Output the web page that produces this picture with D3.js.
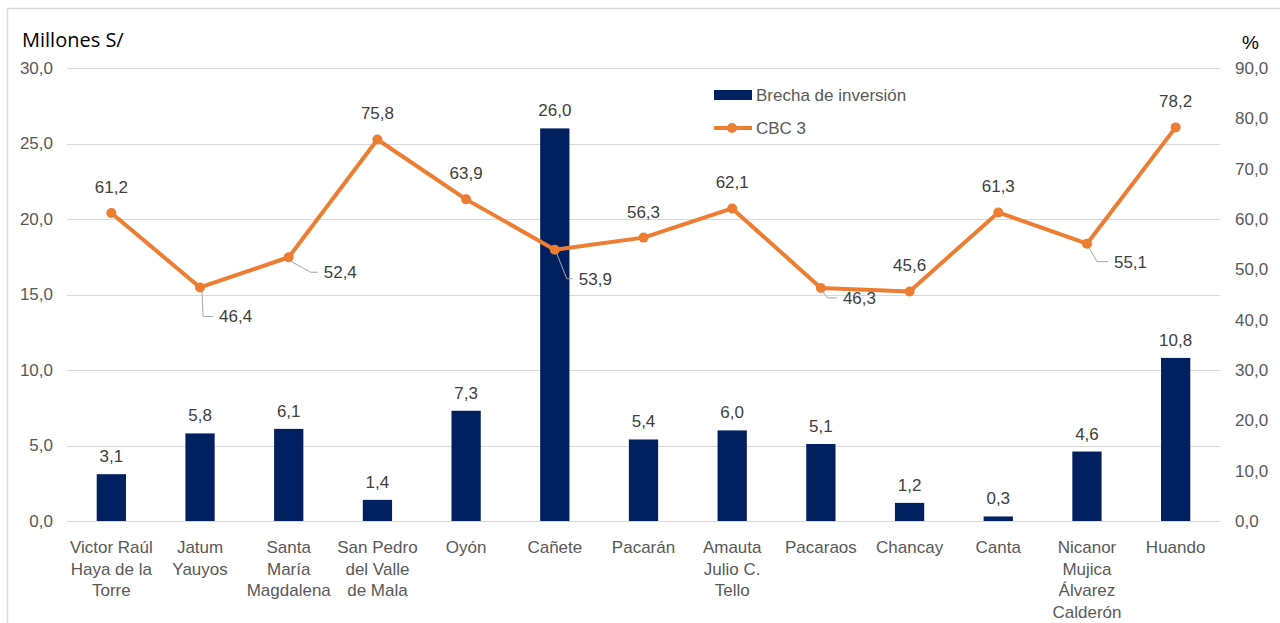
<!DOCTYPE html>
<html>
<head>
<meta charset="utf-8">
<script src="https://cdn.jsdelivr.net/npm/d3@7"></script>
<style>
  body { margin: 0; background: #fff; }
  svg { display: block; font-family: "Liberation Sans", Arial, sans-serif; }
</style>
</head>
<body>
<script>
// data
var categories = [
  "Victor Raúl\nHaya de la\nTorre", "Jatum\nYauyos", "Santa\nMaría\nMagdalena",
  "San Pedro\ndel Valle\nde Mala", "Oyón", "Cañete", "Pacarán",
  "Amauta\nJulio C.\nTello", "Pacaraos", "Chancay", "Canta",
  "Nicanor\nMujica\nÁlvarez\nCalderón", "Huando"
];
var brecha = [3.1, 5.8, 6.1, 1.4, 7.3, 26.0, 5.4, 6.0, 5.1, 1.2, 0.3, 4.6, 10.8];
var cbc3 = [61.2, 46.4, 52.4, 75.8, 63.9, 53.9, 56.3, 62.1, 46.3, 45.6, 61.3, 55.1, 78.2];
var leftTicks = [0, 5, 10, 15, 20, 25, 30];
var rightTicks = [0, 10, 20, 30, 40, 50, 60, 70, 80, 90];
var seriesNames = ["Brecha de inversión", "CBC 3"];

var width = 1280, height = 623;
var plotLeft = 67, plotRight = 1220, plotTop = 68, plotBottom = 521;
var barColor = "#002060", lineColor = "#ED7D31", textColor = "#404040";
var fs = "17px";

// labels that sit below right with a leader line: index -> [dy, corner dx, end dx]
var leaders = { 1: [29, 3, 13], 2: [15, 22, 29], 5: [29, 12, 18], 8: [10, 7, 16], 11: [18, 10, 21] };

var fmt = function(v) { return d3.format(".1f")(v).replace(".", ","); };

var svg = d3.select("body").append("svg")
  .attr("width", width)
  .attr("height", height);

// frame
svg.append("path")
  .attr("d", "M7.5," + height + "V8.5H" + width)
  .attr("fill", "none")
  .attr("stroke", "#d9d9d9")
  .attr("stroke-width", 1.5);

var x = d3.scaleBand()
  .domain(d3.range(categories.length))
  .range([plotLeft, plotRight])
  .paddingInner(0.67)
  .paddingOuter(0.335);

var y = d3.scaleLinear().domain([0, 30]).range([plotBottom, plotTop]);
var y2 = d3.scaleLinear().domain([0, 90]).range([plotBottom, plotTop]);

// gridlines
svg.append("g").selectAll("line")
  .data(leftTicks)
  .enter().append("line")
  .attr("x1", plotLeft).attr("x2", plotRight)
  .attr("y1", function(d) { return Math.round(y(d)) + 0.5; })
  .attr("y2", function(d) { return Math.round(y(d)) + 0.5; })
  .attr("stroke", "#d9d9d9")
  .attr("stroke-width", 1);

// left axis
var yAxis = svg.append("g")
  .attr("transform", "translate(" + (plotLeft - 14) + ",0)")
  .call(d3.axisLeft(y).tickValues(leftTicks).tickFormat(fmt).tickSize(0).tickPadding(0));
yAxis.select(".domain").remove();
yAxis.selectAll("text")
  .attr("fill", "#595959")
  .style("font-size", fs)
  .style("font-family", "Liberation Sans, Arial, sans-serif");

// right axis
var y2Axis = svg.append("g")
  .attr("transform", "translate(" + (plotRight + 15) + ",0)")
  .call(d3.axisRight(y2).tickValues(rightTicks).tickFormat(fmt).tickSize(0).tickPadding(0));
y2Axis.select(".domain").remove();
y2Axis.selectAll("text")
  .attr("fill", "#595959")
  .style("font-size", fs)
  .style("font-family", "Liberation Sans, Arial, sans-serif");

// axis titles
svg.append("text")
  .attr("x", 22).attr("y", 47)
  .attr("fill", "#000")
  .style("font-family", "'Open Sans', sans-serif")
  .style("font-size", "20px")
  .text("Millones S/");
svg.append("text")
  .attr("x", 1242).attr("y", 49)
  .attr("fill", "#000")
  .style("font-size", "19px")
  .text("%");

// bars
svg.append("g").selectAll("rect")
  .data(brecha)
  .enter().append("rect")
  .attr("x", function(d, i) { return x(i); })
  .attr("y", function(d) { return y(d); })
  .attr("width", x.bandwidth())
  .attr("height", function(d) { return y(0) - y(d); })
  .attr("fill", barColor);

svg.append("g").selectAll("text")
  .data(brecha)
  .enter().append("text")
  .attr("x", function(d, i) { return x(i) + x.bandwidth() / 2; })
  .attr("y", function(d) { return y(d) - 12; })
  .attr("text-anchor", "middle")
  .attr("fill", textColor)
  .style("font-size", fs)
  .text(fmt);

// category labels
var cat = svg.append("g").selectAll("text")
  .data(categories)
  .enter().append("text")
  .attr("text-anchor", "middle")
  .attr("fill", "#595959")
  .style("font-size", fs)
  .attr("transform", function(d, i) { return "translate(" + (x(i) + x.bandwidth() / 2) + ",553)"; });
cat.each(function(d) {
  var t = d3.select(this);
  d.split("\n").forEach(function(s, k) {
    t.append("tspan").attr("x", 0).attr("y", k * 21.7).text(s);
  });
});

// line
var cx = function(i) { return x(i) + x.bandwidth() / 2; };
var line = d3.line()
  .x(function(d, i) { return cx(i); })
  .y(function(d) { return y2(d); });

svg.append("path")
  .datum(cbc3)
  .attr("d", line)
  .attr("fill", "none")
  .attr("stroke", lineColor)
  .attr("stroke-width", 4)
  .attr("stroke-linejoin", "round");

svg.append("g").selectAll("circle")
  .data(cbc3)
  .enter().append("circle")
  .attr("cx", function(d, i) { return cx(i); })
  .attr("cy", function(d) { return y2(d); })
  .attr("r", 5)
  .attr("fill", lineColor);

// line labels
var lab = svg.append("g");
cbc3.forEach(function(d, i) {
  var px = cx(i), py = y2(d), l = leaders[i];
  if (l) {
    lab.append("polyline")
      .attr("points", [[px + 2, py + 4], [px + l[1], py + l[0]], [px + l[2], py + l[0]]].join(" "))
      .attr("fill", "none")
      .attr("stroke", "#a6a6a6")
      .attr("stroke-width", 1);
    lab.append("text")
      .attr("x", px + l[2] + 6)
      .attr("y", py + l[0] + 6)
      .attr("fill", textColor)
      .style("font-size", fs)
      .text(fmt(d));
  } else {
    lab.append("text")
      .attr("x", px)
      .attr("y", py - 20)
      .attr("text-anchor", "middle")
      .attr("fill", textColor)
      .style("font-size", fs)
      .text(fmt(d));
  }
});

// legend
var lg = svg.append("g").attr("transform", "translate(714,0)");
lg.append("rect").attr("x", 0).attr("y", 90).attr("width", 38).attr("height", 10).attr("fill", barColor);
lg.append("line").attr("x1", 0).attr("x2", 38).attr("y1", 128).attr("y2", 128)
  .attr("stroke", lineColor).attr("stroke-width", 4);
lg.append("circle").attr("cx", 18).attr("cy", 128).attr("r", 5).attr("fill", lineColor);
lg.selectAll("text.lg")
  .data(seriesNames)
  .enter().append("text")
  .attr("class", "lg")
  .attr("x", 42)
  .attr("y", function(d, i) { return 101 + i * 33; })
  .attr("fill", "#595959")
  .style("font-size", fs)
  .text(function(d) { return d; });
</script>
</body>
</html>
